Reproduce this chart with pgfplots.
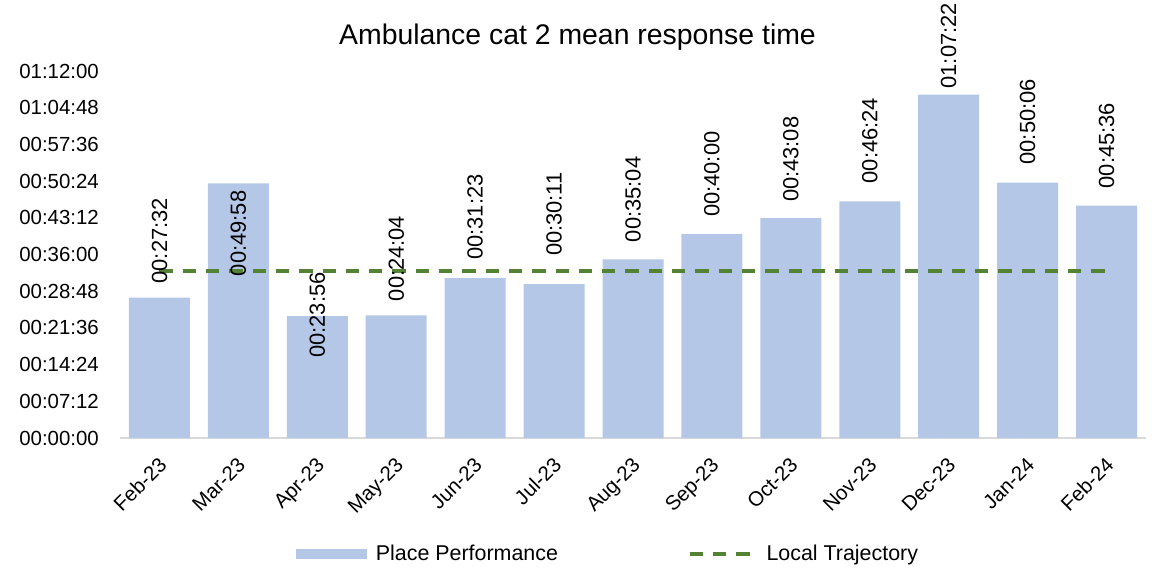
\documentclass[border=0pt]{standalone}
\usepackage{pgfplots}
\pgfplotsset{compat=1.18}
\usepackage{pgfplotstable}
\usepackage{fontspec}
\setmainfont{Liberation Sans}

\definecolor{barblue}{HTML}{B4C7E7}
\definecolor{trajgreen}{HTML}{548235}
\definecolor{axisgray}{HTML}{D9D9D9}

% mean response time in seconds, its hh:mm:ss label, and the label's lift above the bar top (bp)
\pgfplotstableread{
x val lab off
0 1652 00:27:32 14
1 2998 00:49:58 -93
2 1436 00:23:56 -42
3 1444 00:24:04 14
4 1883 00:31:23 18
5 1811 00:30:11 28
6 2104 00:35:04 17
7 2400 00:40:00 17
8 2588 00:43:08 16
9 2784 00:46:24 18
10 4042 01:07:22 6
11 3006 00:50:06 18
12 2736 00:45:36 17
}\resp

\tikzset{trajline/.style={trajgreen, line width=3.5bp, dash pattern=on 13.3bp off 10bp}}

\begin{document}
\begin{tikzpicture}
\useasboundingbox (0,0) rectangle (1152bp,569bp);
\begin{axis}[
  at={(120bp,131bp)}, anchor=south west,
  scale only axis, width=1026bp, height=367bp,
  xmin=-0.5, xmax=12.5, ymin=0, ymax=4320,
  clip=false,
  axis lines*=left,
  axis line style={-},
  y axis line style={draw=none},
  x axis line style={draw=axisgray, line width=1.5bp},
  major tick length=0pt,
  tick style={draw=none},
  xtick={0,...,12},
  xticklabels={Feb-23,Mar-23,Apr-23,May-23,Jun-23,Jul-23,Aug-23,Sep-23,Oct-23,Nov-23,Dec-23,Jan-24,Feb-24},
  xticklabel style={xshift=-2bp, yshift=-18bp, rotate=45, anchor=north east, inner sep=0pt,
    font=\fontsize{20.5}{24}\selectfont},
  ytick={0,432,864,1296,1728,2160,2592,3024,3456,3888,4320},
  yticklabels={00:00:00,00:07:12,00:14:24,00:21:36,00:28:48,00:36:00,00:43:12,00:50:24,00:57:36,01:04:48,01:12:00},
  yticklabel style={inner sep=0pt, xshift=-21bp, font=\fontsize{20.5}{24}\selectfont},
  title={Ambulance cat 2 mean response time},
  every axis title shift=0pt,
  title style={at={(0.4459,1)}, anchor=base, yshift=26.7bp, inner sep=0pt,
    font=\fontsize{28.5}{32}\selectfont},
  legend columns=2,
  legend style={draw=none, fill=none, at={(0.1715,-0.316)}, anchor=west,
    inner sep=0pt, font=\fontsize{21.5}{24}\selectfont,
    nodes={inner sep=0pt},
    /tikz/every even column/.append style={column sep=130bp}},
]
% monthly bars
\addplot[ybar, bar width=61bp, fill=barblue, draw=none,
  legend image code/.code={\fill[barblue] (0bp,-5bp) rectangle (71bp,5bp); \path (79.7bp,0bp);}]
  table[x=x, y=val] {\resp};
\addlegendentry{Place Performance}
% local trajectory
\addplot[trajline, mark=none,
  legend image code/.code={\draw[trajline] (0bp,0bp) -- (60bp,0bp); \path (75bp,0bp);}]
  coordinates {(0,1968) (12,1968)};
\addlegendentry{Local Trajectory}
% value labels, set above the line
\addplot[draw=none, mark=none, forget plot,
  point meta=explicit symbolic,
  nodes near coords,
  visualization depends on={\thisrow{off} \as \loff},
  every node near coord/.append style={rotate=90, anchor=west, inner sep=0pt,
    xshift=\loff*1bp, text=black, font=\fontsize{22}{24}\selectfont}]
  table[x=x, y=val, meta=lab] {\resp};
\end{axis}
\end{tikzpicture}
\end{document}
